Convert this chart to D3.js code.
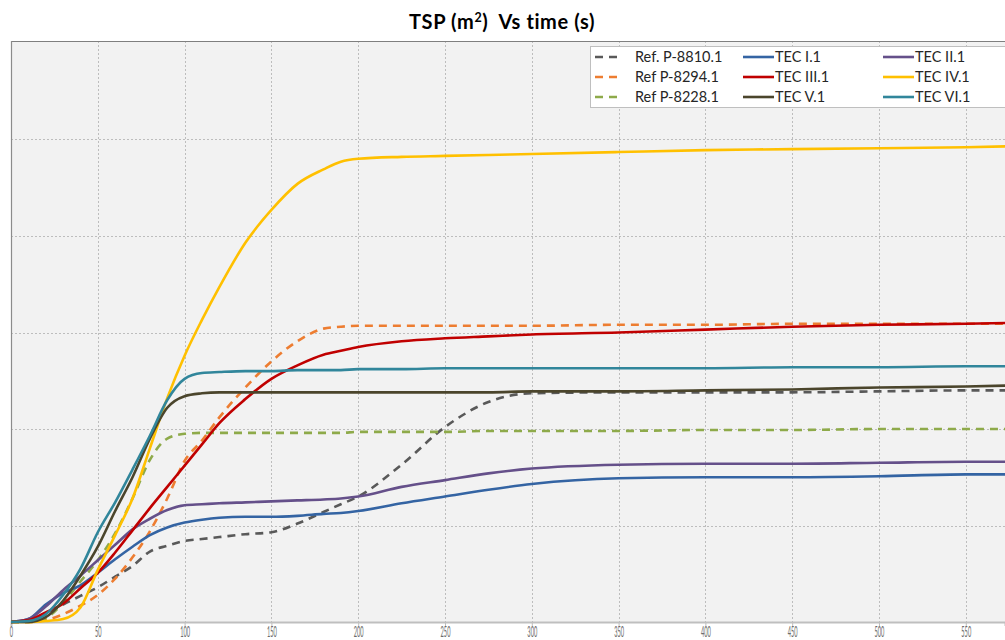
<!DOCTYPE html>
<html>
<head>
<meta charset="utf-8">
<script src="https://cdn.jsdelivr.net/npm/d3@7"></script>
<style>
  html, body { margin: 0; padding: 0; background: #ffffff; }
  svg { display: block; }
</style>
</head>
<body>
<svg id="chart" width="1005" height="640"></svg>
<script>
// Sample times (s)
const times = [0, 10, 20, 30, 40, 50, 60, 70, 80, 90, 100, 110, 120, 135, 150, 165, 180, 190, 200, 225, 250, 275, 300, 350, 400, 450, 500, 550, 575];

// TSP (m²) per test, sampled at the times above
const refP8810 = [0, 0, 8, 18, 27, 36, 47, 58, 73, 79, 84, 86, 88, 91, 93, 102, 114, 122, 130, 163, 202, 228, 237, 238, 238, 238, 239, 240, 240];
const refP8294 = [0, 0, 2, 8, 17, 28, 45, 67, 94, 128, 167, 188, 212, 243, 270, 291, 304, 306, 307, 307, 307, 307, 307, 308, 308, 309, 309, 309, 309];
const refP8228 = [0, 0, 4, 20, 42, 64, 92, 128, 168, 190, 195, 196, 196, 196, 196, 196, 196, 196, 197, 197, 197, 198, 198, 198, 199, 199, 200, 200, 200];
const tecI     = [0, 3, 18, 30, 38, 51, 65, 78, 90, 98, 103, 106, 108, 109, 109, 110, 112, 113, 115, 123, 130, 137, 143, 149, 150, 150, 151, 153, 153];
const tecII    = [0, 3, 16, 33, 48, 64, 80, 96, 107, 116, 121, 122, 123, 124, 125, 126, 127, 128, 130, 140, 147, 154, 159, 163, 164, 164, 165, 166, 166];
const tecIII   = [0, 2, 10, 19, 35, 51, 72, 95, 118, 140, 162, 184, 206, 231, 252, 266, 277, 281, 285, 291, 294, 296, 298, 300, 303, 306, 308, 309, 310];
const tecIV    = [0, 0, 1, 3, 15, 54, 90, 128, 180, 232, 276, 313, 347, 393, 427, 454, 469, 477, 480, 482, 483, 484, 485, 487, 489, 490, 491, 492, 493];
const tecV     = [0, 0, 5, 22, 48, 78, 115, 150, 190, 222, 234, 237, 238, 238, 238, 238, 238, 238, 238, 238, 238, 238, 239, 239, 240, 241, 243, 244, 245];
const tecVI    = [0, 1, 8, 28, 55, 93, 124, 158, 193, 230, 252, 258, 259, 260, 260, 261, 261, 261, 262, 262, 263, 263, 263, 263, 263, 264, 264, 265, 265];

const seriesNames = ["Ref. P-8810.1", "Ref P-8294.1", "Ref P-8228.1", "TEC I.1", "TEC II.1", "TEC III.1", "TEC IV.1", "TEC V.1", "TEC VI.1"];
const seriesValues = [refP8810, refP8294, refP8228, tecI, tecII, tecIII, tecIV, tecV, tecVI];
const seriesColors = ["#595959", "#ed7d31", "#8eaa4a", "#3464a3", "#65508a", "#c00000", "#ffc000", "#4b452c", "#31869b"];
const seriesDashed = [true, true, true, false, false, false, false, false, false];

const xTicks = [0, 50, 100, 150, 200, 250, 300, 350, 400, 450, 500, 550];
const yTicks = [100, 200, 300, 400, 500];

const svg = d3.select("#chart");
const plot = { left: 11, right: 1005, top: 41, bottom: 622 };

const x = d3.scaleLinear().domain([0, 572.6]).range([plot.left, plot.right]);
const y = d3.scaleLinear().domain([0, 600]).range([plot.bottom, 43]);

// Title
const title = svg.append("text")
  .attr("x", 502).attr("y", 29)
  .attr("text-anchor", "middle")
  .attr("font-family", "Lato, 'Open Sans', sans-serif")
  .attr("font-weight", "bold")
  .attr("font-size", 20)
  .attr("letter-spacing", 0.6)
  .attr("fill", "#000");
title.append("tspan").text("TSP (m");
title.append("tspan").attr("font-size", 12.5).attr("dy", -7.5).text("2");
title.append("tspan").attr("dy", 7.5).text(")\u00a0 Vs time (s)");

// Plot background
svg.append("rect")
  .attr("x", plot.left).attr("y", plot.top)
  .attr("width", plot.right - plot.left).attr("height", plot.bottom - plot.top)
  .attr("fill", "#f2f2f2");

// Grid
const grid = svg.append("g").attr("stroke", "#bdbdbd").attr("stroke-width", 1).attr("stroke-dasharray", "2,2");
grid.selectAll("line.v").data(xTicks.filter(d => d > 0)).join("line")
  .attr("x1", d => Math.round(x(d)) + 0.5).attr("x2", d => Math.round(x(d)) + 0.5)
  .attr("y1", plot.top).attr("y2", plot.bottom);
grid.selectAll("line.h").data(yTicks).join("line")
  .attr("x1", plot.left).attr("x2", plot.right)
  .attr("y1", d => Math.round(y(d)) + 0.5).attr("y2", d => Math.round(y(d)) + 0.5);

// Frame
svg.append("line").attr("x1", plot.left).attr("x2", plot.right)
  .attr("y1", plot.top + 0.5).attr("y2", plot.top + 0.5)
  .attr("stroke", "#7f7f7f").attr("stroke-width", 1.2);
svg.append("line").attr("x1", plot.left + 0.5).attr("x2", plot.left + 0.5)
  .attr("y1", plot.top).attr("y2", plot.bottom)
  .attr("stroke", "#8c8c8c").attr("stroke-width", 1.2);

// X axis
const xAxis = d3.axisBottom(x).tickValues(xTicks).tickSize(4).tickFormat(d3.format("d"));
const gx = svg.append("g").attr("transform", `translate(0,${plot.bottom})`).call(xAxis);
gx.select(".domain").attr("stroke", "#bfbfbf").attr("stroke-width", 2);
gx.selectAll(".tick line").attr("stroke", "#bfbfbf");
gx.selectAll(".tick text")
  .attr("font-family", "Lato, 'Open Sans', sans-serif")
  .attr("font-size", 15)
  .attr("fill", "#6b6b6b")
  .attr("y", 15)
  .attr("dy", 0)
  .attr("transform", "scale(0.38,1)");

// Lines
svg.append("clipPath").attr("id", "plotClip").append("rect")
  .attr("x", plot.left).attr("y", plot.top)
  .attr("width", plot.right - plot.left).attr("height", plot.bottom - plot.top + 2);

const line = d3.line()
  .x((d, i) => x(times[i]))
  .y(d => y(d))
  .curve(d3.curveMonotoneX);

svg.append("g").attr("clip-path", "url(#plotClip)")
  .selectAll("path").data(d3.range(seriesValues.length)).join("path")
  .attr("d", i => line(seriesValues[i]))
  .attr("fill", "none")
  .attr("stroke", i => seriesColors[i])
  .attr("stroke-width", 2.6)
  .attr("stroke-dasharray", i => seriesDashed[i] ? "8,6" : null)
  .attr("stroke-linecap", "butt");

// Legend
const legend = svg.append("g");
legend.append("rect")
  .attr("x", 590.5).attr("y", 46.5).attr("width", 430).attr("height", 61)
  .attr("fill", "#ffffff").attr("stroke", "#bfbfbf");
const colX = [593, 743, 883];
const rowY = [57, 77, 97];
// column / row slot of each series
const legendPos = [[0, 0], [0, 1], [0, 2], [1, 0], [2, 0], [1, 1], [2, 1], [1, 2], [2, 2]];
seriesNames.forEach((name, i) => {
  const [c, r] = legendPos[i];
  const lx = colX[c], ly = rowY[r];
  const g = legend.append("g");
  const dashed = seriesDashed[i];
  g.append("line")
    .attr("x1", dashed ? lx + 2 : lx).attr("x2", dashed ? lx + 30 : lx + 31)
    .attr("y1", ly).attr("y2", ly)
    .attr("stroke", seriesColors[i]).attr("stroke-width", 2.6)
    .attr("stroke-dasharray", dashed ? "8,6" : null);
  g.append("text").attr("x", dashed ? lx + 42 : lx + 32).attr("y", ly + 5)
    .attr("font-family", "Lato, 'Open Sans', sans-serif").attr("font-size", 14.5)
    .attr("fill", "#262626").text(name);
});
</script>
</body>
</html>
